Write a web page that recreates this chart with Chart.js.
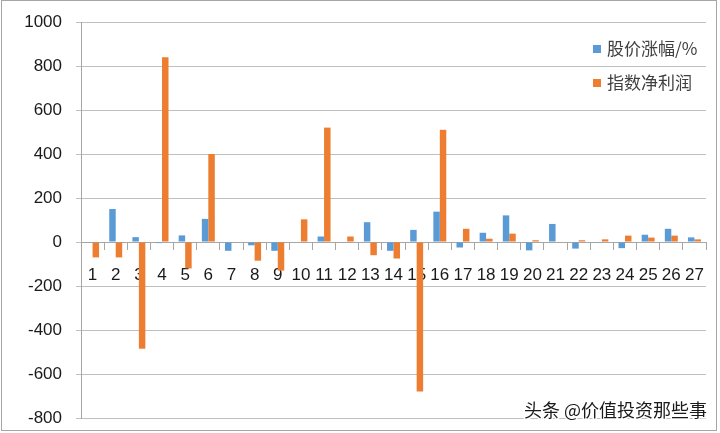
<!DOCTYPE html>
<html>
<head>
<meta charset="utf-8">
<script src="https://cdn.jsdelivr.net/npm/chart.js@4.4.1/dist/chart.umd.min.js"></script>
<style>
  html, body { margin: 0; padding: 0; background: #fff; }
  #wrap { width: 720px; height: 433px; }
</style>
</head>
<body>
<div id="wrap"><canvas id="barChart" width="720" height="433"></canvas></div>
<script>
const categories = ['1', '2', '3', '4', '5', '6', '7', '8', '9', '10', '11', '12', '13', '14',
    '15', '16', '17', '18', '19', '20', '21', '22', '23', '24', '25', '26', '27'];
const priceChange = [-2, 150, 22, -5, 30, 105, -40, -15, -40, 0, 25, -3, 90, -40,
    55, 138, -25, 42, 121, -38, 82, -30, -3, -28, 33, 60, 21];
const netProfit = [-70, -70, -485, 840, -120, 400, -3, -85, -130, 103, 520, 25, -60, -75,
    -680, 510, 60, 15, 38, 8, -3, 8, 12, 29, 20, 29, 12];
const seriesNames = ['股价涨幅/%', '指数净利润'];
const seriesColors = ['#5B9BD5', '#ED7D31'];
const yTicks = [-800, -600, -400, -200, 0, 200, 400, 600, 800, 1000];

const labelFont = { family: '"Liberation Sans", Arial, sans-serif', size: 17 };

// legend drawn inside the plot, like the Excel original
const insideLegend = {
    id: 'insideLegend',
    afterDatasetsDraw(chart) {
        const c = chart.ctx;
        c.save();
        c.font = '17px "Noto Sans CJK SC", sans-serif';
        c.textBaseline = 'middle';
        seriesNames.forEach((name, i) => {
            const y = 49 + i * 34;
            c.fillStyle = seriesColors[i];
            c.fillRect(593, y - 4, 8, 8);
            c.fillStyle = '#404040';
            c.fillText(name, 607, y);
        });
        c.restore();
    }
};

// outer frame + watermark
const frame = {
    id: 'frame',
    afterDraw(chart) {
        const c = chart.ctx;
        c.save();
        c.strokeStyle = '#a6a6a6';
        c.lineWidth = 1;
        c.strokeRect(1.5, 0.5, 715, 430);
        c.font = '18px "Noto Sans CJK SC", sans-serif';
        c.textBaseline = 'middle';
        c.textAlign = 'right';
        c.lineWidth = 3;
        c.strokeStyle = '#ffffff';
        c.strokeText('头条 @价值投资那些事', 707, 410);
        c.fillStyle = '#1a1a1a';
        c.fillText('头条 @价值投资那些事', 707, 410);
        c.restore();
    }
};

new Chart(document.getElementById('barChart'), {
    type: 'bar',
    data: {
        labels: categories,
        datasets: [
            { label: seriesNames[0], data: priceChange, backgroundColor: seriesColors[0] },
            { label: seriesNames[1], data: netProfit, backgroundColor: seriesColors[1] }
        ]
    },
    options: {
        responsive: false,
        animation: false,
        devicePixelRatio: 1,
        layout: { padding: { left: 0, top: 22, right: 5, bottom: 15 } },
        datasets: { bar: { categoryPercentage: 0.56, barPercentage: 1.0 } },
        plugins: {
            legend: { display: false },
            tooltip: { enabled: false }
        },
        scales: {
            x: {
                position: { y: 0 },
                grid: {
                    offset: true,
                    drawOnChartArea: false,
                    drawTicks: true,
                    tickLength: 7,
                    color: '#a6a6a6'
                },
                border: { color: '#a6a6a6' },
                ticks: { color: '#1a1a1a', font: labelFont, padding: 16, maxRotation: 0, autoSkip: false }
            },
            y: {
                min: -800,
                max: 1000,
                afterFit(scale) {
                    scale.width = 81;
                    scale.paddingTop = 0;
                    scale.paddingBottom = 0;
                },
                afterBuildTicks(scale) { scale.ticks = yTicks.map(v => ({ value: v })); },
                grid: { color: '#bfbfbf', tickLength: 5 },
                border: { color: '#a6a6a6' },
                ticks: {
                    color: '#1a1a1a',
                    font: labelFont,
                    padding: 14,
                    callback: v => String(v)
                }
            }
        }
    },
    plugins: [insideLegend, frame]
});
</script>
</body>
</html>
